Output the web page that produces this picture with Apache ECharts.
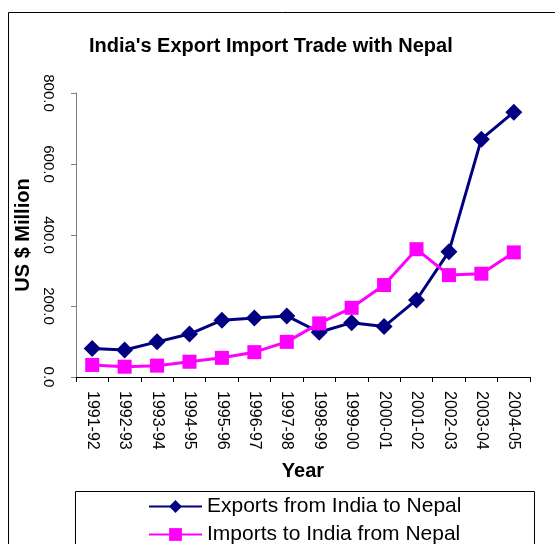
<!DOCTYPE html>
<html>
<head>
<meta charset="utf-8">
<script src="https://cdn.jsdelivr.net/npm/echarts@6/dist/echarts.min.js"></script>
<style>
	html, body {margin: 0; padding: 0; background: #fff;}
	#chart {width: 555px; height: 544px;}
</style>
</head>
<body>
<div id="chart"></div>
<script>
// years and trade values (US $ Million)
var years = ['1991-92', '1992-93', '1993-94', '1994-95', '1995-96', '1996-97', '1997-98',
	'1998-99', '1999-00', '2000-01', '2001-02', '2002-03', '2003-04', '2004-05'];
var exportsToNepal = [80, 76, 99, 121, 160, 166, 172, 126, 153, 142, 217, 353, 670, 746];
var importsFromNepal = [34, 29, 32, 43, 54, 70, 99, 151, 195, 259, 360, 287, 291, 351];
var seriesNames = ['Exports from India to Nepal', 'Imports to India from Nepal'];

var font = 'Arial, "Liberation Sans", sans-serif';
var chart = echarts.init(document.getElementById('chart'));

// one legend per row, stacked inside the box at the bottom
function legendRow(name, top){
	return {
		left: 143,
		top: top,
		itemWidth: 53,
		itemHeight: 16,
		data: [name],
		textStyle: {fontFamily: font, fontSize: 21, color: '#000'}
	};
}

option = {
	animation: false,
	backgroundColor: '#fff',
	title: {
		text: "India's Export Import Trade with Nepal",
		left: 84,
		top: 31,
		textStyle: {fontFamily: font, fontSize: 20, fontWeight: 'bold', color: '#000'}
	},
	// chart frame and legend box
	graphic: [
		{type: 'rect', shape: {x: 8.5, y: 12.5, width: 600, height: 600},
			style: {fill: null, stroke: '#000', lineWidth: 1}},
		{type: 'rect', shape: {x: 75.5, y: 491.5, width: 459, height: 100},
			style: {fill: '#fff', stroke: '#000', lineWidth: 1}}
	],
	legend: [legendRow(seriesNames[0], 491), legendRow(seriesNames[1], 519)],
	grid: {left: 76, right: 25, top: 93, bottom: 167},
	xAxis: {
		type: 'category',
		data: years,
		name: 'Year',
		nameLocation: 'middle',
		nameGap: 84,
		nameTextStyle: {fontFamily: font, fontSize: 20, fontWeight: 'bold', color: '#000'},
		axisLine: {lineStyle: {color: '#000', width: 1}},
		axisTick: {show: true, length: 5, lineStyle: {color: '#000'}},
		axisLabel: {
			interval: 0, rotate: -90, margin: 14,
			align: 'left', verticalAlign: 'middle',
			fontFamily: font, fontSize: 16, color: '#000'
		}
	},
	yAxis: {
		type: 'value',
		min: 0, max: 800, interval: 200,
		name: 'US $ Million',
		nameLocation: 'middle',
		nameGap: 38,
		nameTextStyle: {fontFamily: font, fontSize: 20, fontWeight: 'bold', color: '#000'},
		splitLine: {show: false},
		axisLine: {show: true, lineStyle: {color: '#808080', width: 1}},
		axisTick: {show: true, length: 5, lineStyle: {color: '#808080'}},
		axisLabel: {
			rotate: -90, margin: 20,
			align: 'center', verticalAlign: 'top',
			fontFamily: font, fontSize: 15, color: '#000',
			formatter: function(v){ return v.toFixed(1); }
		}
	},
	series: [{
		type: 'line',
		name: seriesNames[0],
		data: exportsToNepal,
		symbol: 'diamond',
		symbolSize: 17,
		lineStyle: {color: '#000080', width: 3},
		itemStyle: {color: '#000080'}
	},
	{
		type: 'line',
		name: seriesNames[1],
		data: importsFromNepal,
		symbol: 'rect',
		symbolSize: 14,
		lineStyle: {color: '#ff00ff', width: 3},
		itemStyle: {color: '#ff00ff'}
	}]
};
chart.setOption(option);
</script>
</body>
</html>
